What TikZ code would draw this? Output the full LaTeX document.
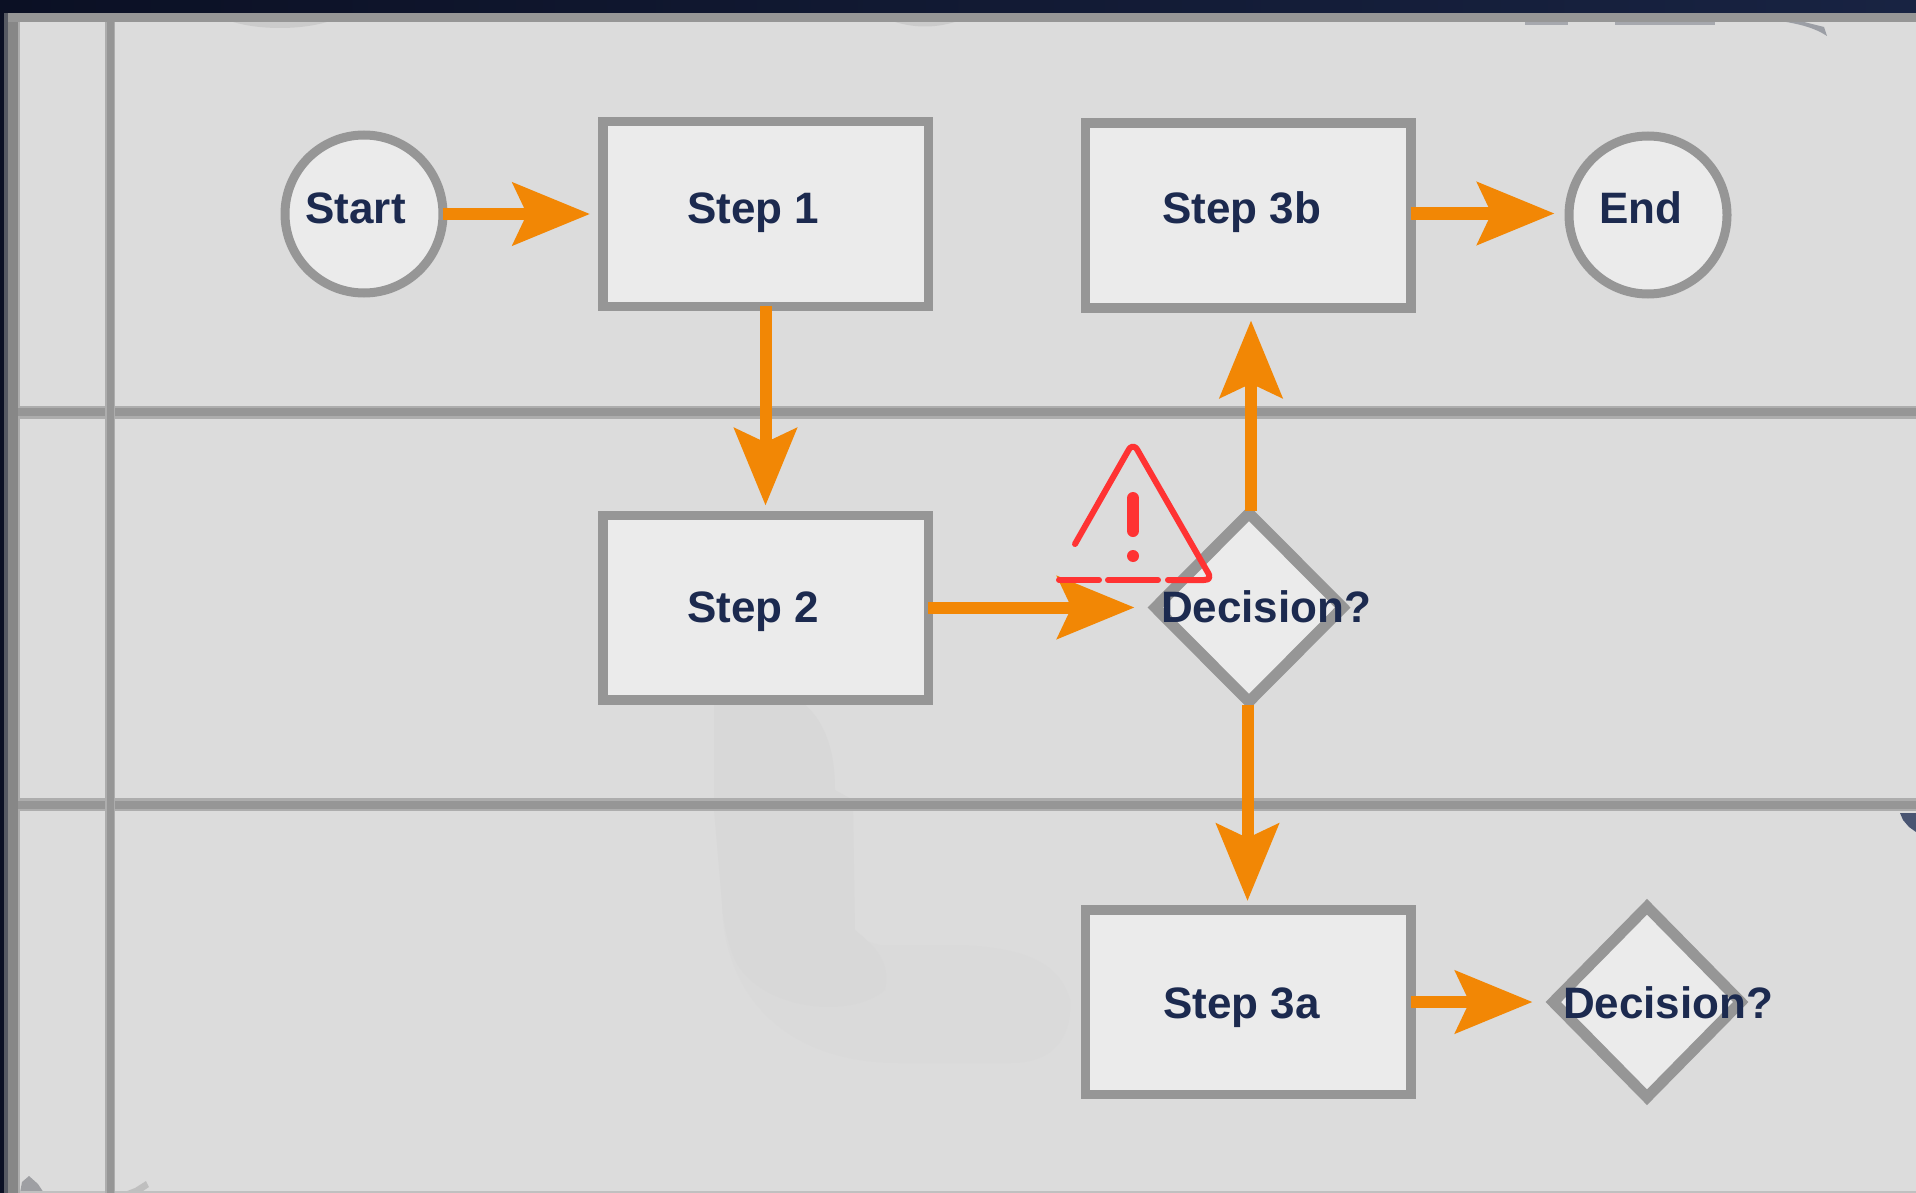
\documentclass[tikz,border=0pt]{standalone}
\usepackage{fontspec}
\setmainfont{Liberation Sans}
\usetikzlibrary{arrows.meta,shapes.geometric}
\definecolor{pagebg}{HTML}{DCDCDC}
\definecolor{shapefill}{HTML}{EBEBEB}
\definecolor{rulegrey}{HTML}{969696}
\definecolor{halogrey}{HTML}{ADADAD}
\definecolor{flow}{HTML}{F28705}
\definecolor{ink}{HTML}{1C2A4F}
\definecolor{warn}{HTML}{FF3333}
\definecolor{navyA}{HTML}{0B1024}
\definecolor{navyB}{HTML}{182342}
\definecolor{smudge}{HTML}{D8D8D8}
\definecolor{smudgeB}{HTML}{DADADA}
\tikzset{
  laneHalo/.style={draw=halogrey,line width=13pt},
  laneLine/.style={draw=rulegrey,line width=8pt},
  stepbox/.style={rectangle,draw=rulegrey,fill=shapefill,line width=9.5pt,minimum width=325.5pt,minimum height=184.5pt,inner sep=0pt},
  terminal/.style={circle,draw=rulegrey,fill=shapefill,line width=9pt,minimum size=158pt,inner sep=0pt},
  choice/.style={diamond,draw=rulegrey,fill=shapefill,line width=11pt,minimum width=192pt,minimum height=193pt,inner sep=0pt},
  caption/.style={anchor=base west,inner sep=0pt,outer sep=0pt,text=ink,font=\fontsize{44}{50}\selectfont\bfseries},
  flowline/.style={draw=flow,line width=12pt,-{Stealth[length=77pt,width=62pt,inset=14pt,fill=flow]},shorten <=-5pt},
  warnline/.style={draw=warn,line width=6pt,line cap=round,line join=round}
}
\begin{document}
\begin{tikzpicture}[x=1pt,y=-1pt]
\useasboundingbox (0,0) rectangle (1916,1193);
\fill[pagebg] (0,0) rectangle (1916,1193);
% faint traces on the page
\fill[smudgeB] (722,900) .. controls (722,990) and (780,1063) .. (900,1063) -- (1010,1063) .. controls (1060,1063) and (1072,1030) .. (1070,1000) .. controls (1060,965) and (1030,948) .. (960,945) -- (880,945) .. controls (860,940) and (853,935) .. (853,925) -- cycle;
\fill[smudge] (714,700) -- (800,700) .. controls (825,720) and (835,750) .. (835,790) -- (853,800) -- (855,930) .. controls (880,950) and (890,965) .. (885,990) .. controls (850,1020) and (760,1010) .. (735,960) .. controls (722,930) and (722,900) .. (720,880) -- (714,810) -- cycle;
\fill[halogrey,opacity=.35] (233,22) .. controls (260,30) and (300,30) .. (327,22) -- cycle;
\fill[halogrey,opacity=.35] (895,22) .. controls (915,28) and (935,28) .. (955,22) -- cycle;
\fill[rulegrey!70!ink,opacity=.5] (1525,21) rectangle (1568,25);
\fill[rulegrey!70!ink,opacity=.5] (1615,21) rectangle (1715,25);
\fill[rulegrey!70!ink,opacity=.6] (1780,21) .. controls (1800,24) and (1815,28) .. (1827,36) -- (1824,27) -- (1800,21) -- cycle;
\fill[ink!80] (1900,813) -- (1916,813) -- (1916,832) -- (1909,827) -- (1903,820) -- cycle;
\fill[rulegrey!85!ink,opacity=.7] (20,1193) -- (22,1182) -- (29,1176) -- (38,1184) -- (44,1193) -- cycle;
\fill[halogrey,opacity=.6] (122,1193) -- (135,1188) -- (146,1181) -- (149,1187) -- (140,1193) -- cycle;
\fill[halogrey!60!pagebg] (0,1191) rectangle (1916,1193);
% frame and lanes
\fill[left color=navyA,right color=navyB] (0,0) rectangle (1916,13);
\fill[navyA] (0,0) rectangle (4,1193);
\fill[rulegrey!55!navyA] (4,13) rectangle (8,1193);
\fill[rulegrey!90!black] (8,13) rectangle (18,1193);
\fill[halogrey] (18,22) rectangle (20,1193);
\fill[rulegrey] (8,13) rectangle (1916,22);
\path[laneHalo] (18,412) -- (1916,412);
\path[laneLine] (18,412) -- (1916,412);
\path[laneHalo] (18,804.5) -- (1916,804.5);
\path[laneLine] (18,804.5) -- (1916,804.5);
\path[draw=halogrey,line width=10pt] (109.5,22) -- (109.5,1193);
\path[draw=rulegrey,line width=7pt] (110.5,22) -- (110.5,1193);
% shapes
\node[terminal] (start) at (364,214) {};
\node[stepbox] (s1) at (765.5,214) {};
\node[stepbox] (s3b) at (1248,215.5) {};
\node[terminal] (end) at (1648,215) {};
\node[stepbox] (s2) at (765.5,607.5) {};
\node[choice] (d1) at (1249,607.5) {};
\node[stepbox] (s3a) at (1248,1002) {};
\node[choice,minimum height=195pt] (d2) at (1647,1002) {};
% connectors
\draw[flowline,shorten >=8pt] (start.east) -- (s1.west |- start.east);
\draw[flowline,shorten >=10pt] ([yshift=1.5pt]s3b.east |- end.west) -- ([yshift=1.5pt]end.west);
\draw[flowline,shorten >=5pt] (s1.south) -- (s2.north);
\draw[flowline,shorten >=13pt] (s2.east) -- (d1.west);
\draw[flowline,shorten >=8pt] ([xshift=2pt]d1.north) -- ([xshift=3pt]s3b.south);
\draw[flowline,shorten >=4pt] ([xshift=-1.5pt]d1.south) -- ([xshift=-.5pt]s3a.north);
\draw[flowline,shorten >=13pt] (s3a.east) -- (d2.west);
% warning sign
\draw[warnline] (1075,544) -- (1128,451) .. controls (1131,445) and (1135,445) .. (1138,451) -- (1207,571) .. controls (1211,577) and (1210,580) .. (1204,580) -- (1168,580);
\draw[warnline] (1108,580) -- (1158,580);
\draw[warnline] (1059,580) -- (1099,580);
\draw[warn,line width=12pt,line cap=round] (1133,498) -- (1133,531);
\fill[warn] (1133,556) circle (6pt);
% labels
\node[caption] (tstart) at (305.5,223) {Start};
\node[caption] (t1) at (687,223) {Step 1};
\node[caption] (t3b) at (1162,223) {Step 3b};
\node[caption] (tend) at (1599,223) {End};
\node[caption] (t2) at (687,622) {Step 2};
\node[caption] (td1) at (1161,622) {Decision?};
\node[caption] (t3a) at (1163,1018) {Step 3a};
\node[caption] (td2) at (1563,1018) {Decision?};
\end{tikzpicture}
\end{document}
